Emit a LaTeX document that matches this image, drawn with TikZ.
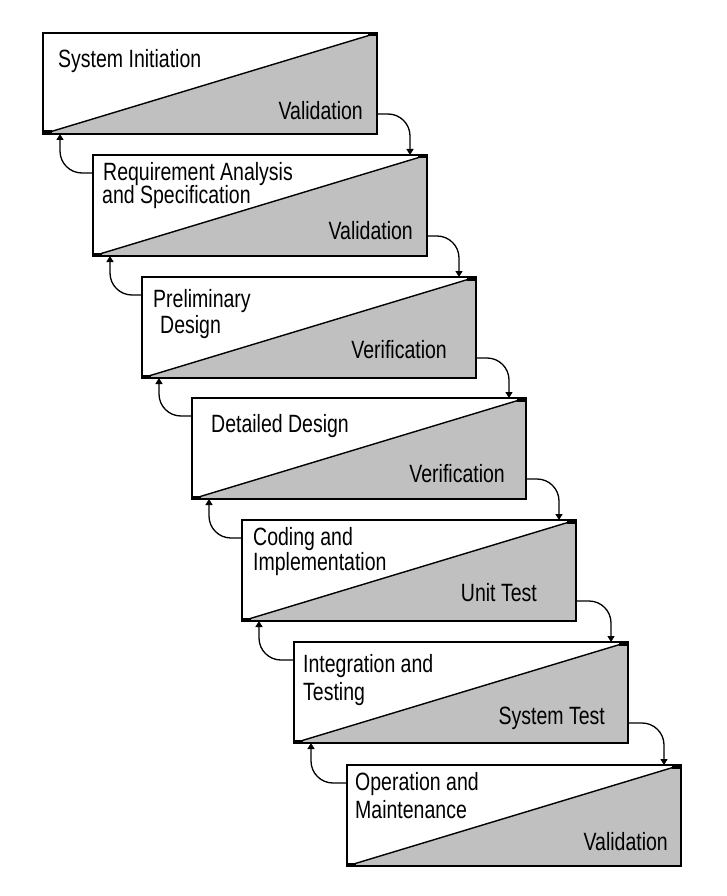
\documentclass[tikz,border=0pt]{standalone}
\usepackage{fontspec}
\setmainfont{Liberation Sans}[FakeStretch=0.78]
\usetikzlibrary{arrows.meta}
\definecolor{boxgray}{HTML}{C0C0C0}
\begin{document}
\begin{tikzpicture}[x=1pt,y=-1pt,
  stage/.style={minimum width=334pt, minimum height=101pt, anchor=north west, inner sep=0pt, outer sep=0pt},
  lbl/.style={inner sep=0pt, font=\fontsize{25}{25}\selectfont},
  conn/.style={line width=1.3pt, rounded corners=22pt, -{Triangle[length=6pt,width=7pt]}},
  border/.style={line width=1.7pt},
  diag/.style={line width=1.4pt}]
\useasboundingbox (0,0) rectangle (726,896);
% stage frames
\path node[stage] (b1) at (43,33) {};
\path node[stage] (b2) at (93,155) {};
\path node[stage] (b3) at (142,277) {};
\path node[stage] (b4) at (192,398) {};
\path node[stage] (b5) at (242,520) {};
\path node[stage] (b6) at (294,642) {};
\path node[stage] (b7) at (347,765) {};
\foreach \b in {b1,b2,b3,b4,b5,b6,b7}{
  \fill[white] (\b.south west) rectangle (\b.north east);
  \fill[boxgray] (\b.south west) -- (\b.north east) -- (\b.south east) -- cycle;
  \draw[diag] (\b.south west) -- (\b.north east);
  \draw[border] (\b.south west) rectangle (\b.north east);
  \fill (\b.north east) rectangle ++(-9,3.5);
  \fill (\b.south west) rectangle ++(9,-3.5);
}
% labels
\node[lbl, anchor=base west] (t1a) at ([shift={(15,35)}]b1.north west) {System Initiation};
\node[lbl, anchor=base east] (v1) at ([shift={(-14,-14)}]b1.south east) {Validation};
\node[lbl, anchor=base west] (t2a) at ([shift={(10,26)}]b2.north west) {Requirement Analysis};
\node[lbl, anchor=base west] (t2b) at ([shift={(9,49)}]b2.north west) {and Specification};
\node[lbl, anchor=base east] (v2) at ([shift={(-14,-17)}]b2.south east) {Validation};
\node[lbl, anchor=base west] (t3a) at ([shift={(11,30)}]b3.north west) {Preliminary};
\node[lbl, anchor=base west] (t3b) at ([shift={(18,56)}]b3.north west) {Design};
\node[lbl, anchor=base east] (v3) at ([shift={(-29,-20)}]b3.south east) {Verification};
\node[lbl, anchor=base west] (t4a) at ([shift={(19,34)}]b4.north west) {Detailed Design};
\node[lbl, anchor=base east] (v4) at ([shift={(-21,-17)}]b4.south east) {Verification};
\node[lbl, anchor=base west] (t5a) at ([shift={(11,25)}]b5.north west) {Coding and};
\node[lbl, anchor=base west] (t5b) at ([shift={(11,50)}]b5.north west) {Implementation};
\node[lbl, anchor=base east] (v5) at ([shift={(-39,-20)}]b5.south east) {Unit Test};
\node[lbl, anchor=base west] (t6a) at ([shift={(9,30)}]b6.north west) {Integration and};
\node[lbl, anchor=base west] (t6b) at ([shift={(9,58)}]b6.north west) {Testing};
\node[lbl, anchor=base east] (v6) at ([shift={(-23,-19)}]b6.south east) {System Test};
\node[lbl, anchor=base west] (t7a) at ([shift={(8,25)}]b7.north west) {Operation and};
\node[lbl, anchor=base west] (t7b) at ([shift={(8,53)}]b7.north west) {Maintenance};
\node[lbl, anchor=base east] (v7) at ([shift={(-13,-16)}]b7.south east) {Validation};
% connectors
\foreach \i/\j in {b1/b2,b2/b3,b3/b4,b4/b5,b5/b6,b6/b7}{
  \draw[conn] ([yshift=-81pt]\i.north east) -| ([xshift=-17pt]\j.north east);
  \draw[conn] ([yshift=-18pt]\j.north west) -| ([xshift=17pt]\i.south west);
}
\end{tikzpicture}
\end{document}
